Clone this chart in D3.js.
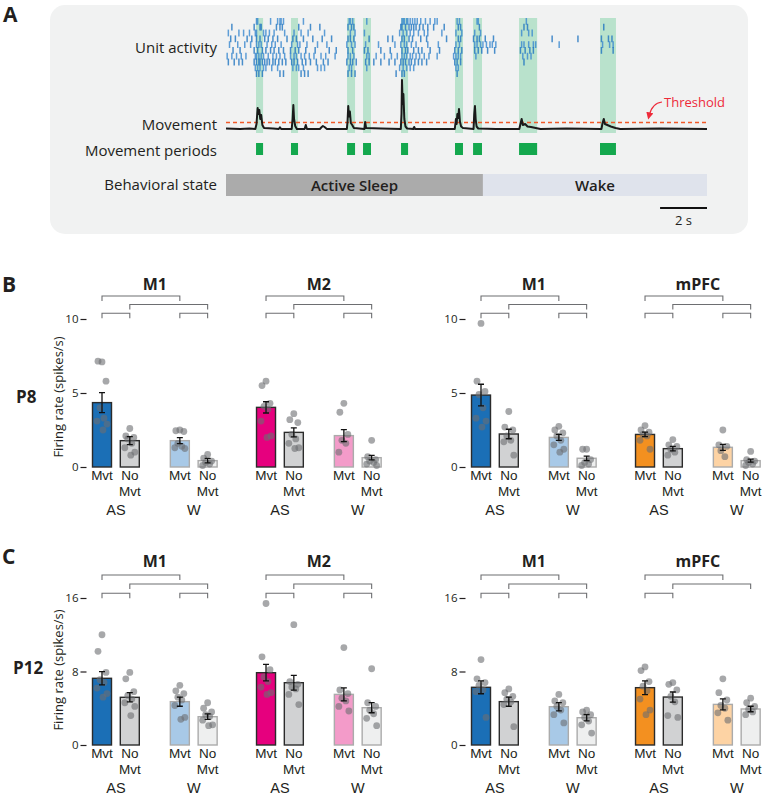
<!DOCTYPE html>
<html>
<head>
<meta charset="utf-8">
<script src="https://cdnjs.cloudflare.com/ajax/libs/d3/7.8.5/d3.min.js"></script>
<style>
  body { margin: 0; background: #fff; }
  svg text { font-family: "Open Sans", "Noto Sans", sans-serif; fill: #231f20; }
  svg text.lab { font-family: "Liberation Sans", Arial, sans-serif; }
</style>
</head>
<body>
<div id="fig"></div>
<script>
// ---------- panel A data ----------
var spikeRows = [
  [1.3, 1.35, 1.9, 2.2, 2.3, 2.35, 2.45, 3.3, 5.25, 5.3, 5.4, 6.0, 7.5, 7.55, 7.6, 7.7, 7.75, 7.85, 7.95, 8.05, 8.15, 8.3, 8.5, 8.7, 8.9, 9.0, 9.85, 9.95, 10.7, 10.75, 12.8],
  [0.25, 1.2, 1.45, 1.5, 2.15, 2.3, 2.4, 3.1, 3.6, 4.0, 5.2, 5.35, 5.45, 7.45, 7.5, 7.65, 7.8, 7.9, 8.0, 8.1, 8.25, 8.4, 8.6, 8.85, 9.3, 9.9, 10.0, 10.8, 12.7, 12.85, 16.1],
  [0.1, 0.55, 0.75, 1.0, 1.25, 1.3, 1.6, 1.7, 1.85, 2.05, 2.5, 2.9, 3.2, 3.5, 4.2, 5.3, 5.5, 5.9, 7.4, 7.55, 7.7, 7.85, 8.0, 8.2, 8.45, 8.6, 9.2, 9.8, 10.05, 10.6, 10.85, 12.6, 12.9, 13.05],
  [0.2, 0.4, 0.9, 1.1, 1.3, 1.45, 1.65, 1.8, 2.0, 2.2, 2.6, 2.85, 3.0, 3.3, 3.7, 4.1, 4.5, 5.2, 5.3, 5.45, 6.1, 6.9, 7.1, 7.5, 7.6, 7.8, 7.95, 8.3, 8.55, 9.4, 9.9, 10.0, 10.55, 10.7, 10.8, 11.05, 11.4, 13.9, 15.0, 16.0, 16.3, 16.45],
  [0.15, 0.5, 0.8, 1.05, 1.3, 1.4, 1.5, 1.75, 1.95, 2.1, 2.35, 2.8, 3.05, 3.15, 3.45, 3.9, 4.3, 5.15, 5.35, 5.5, 5.95, 6.5, 7.2, 7.45, 7.6, 7.7, 7.9, 8.1, 8.6, 9.05, 9.8, 9.95, 10.6, 10.7, 10.85, 10.95, 11.1, 11.25, 11.35, 11.5, 12.6, 12.7, 12.9, 13.1, 13.2, 14.2, 16.05, 16.35, 16.5],
  [0.3, 0.6, 1.2, 1.35, 1.55, 1.7, 1.9, 2.05, 2.25, 2.45, 2.75, 2.95, 3.1, 3.4, 3.8, 4.4, 4.7, 5.2, 5.4, 5.9, 6.05, 6.6, 7.0, 7.5, 7.65, 7.75, 8.0, 8.2, 8.35, 8.7, 9.1, 9.75, 9.9, 10.05, 10.6, 10.75, 10.9, 11.15, 11.45, 12.55, 12.75, 12.95, 13.1, 16.0, 16.5],
  [0.05, 0.25, 0.45, 0.65, 0.85, 1.25, 1.3, 1.4, 1.5, 1.6, 1.8, 2.0, 2.15, 2.3, 2.5, 2.75, 2.9, 3.0, 3.2, 3.35, 3.55, 3.75, 4.05, 4.25, 4.65, 5.2, 5.3, 5.45, 6.0, 6.1, 6.4, 6.75, 7.05, 7.3, 7.5, 7.6, 7.7, 7.85, 7.95, 8.1, 8.25, 8.45, 8.65, 9.0, 9.7, 9.8, 9.9, 10.0, 10.65, 12.65, 12.85, 13.0],
  [0.1, 0.35, 0.55, 0.7, 1.2, 1.3, 1.4, 1.45, 1.55, 1.65, 1.75, 1.85, 2.0, 2.1, 2.25, 2.4, 2.55, 2.8, 2.9, 3.05, 3.25, 3.4, 3.6, 3.85, 4.15, 4.35, 5.15, 5.3, 5.4, 5.55, 5.95, 6.1, 6.3, 6.6, 6.95, 7.2, 7.45, 7.55, 7.65, 7.8, 7.9, 8.05, 8.2, 8.35, 8.55, 9.75, 9.85, 10.0, 12.7],
  [1.25, 1.35, 1.45, 1.6, 1.7, 1.95, 2.2, 2.85, 3.0, 3.1, 3.3, 3.9, 4.05, 4.2, 5.25, 5.35, 6.0, 7.4, 7.55, 7.7, 7.85, 8.0, 9.8, 9.9],
  [1.3, 1.4, 1.55, 2.3, 2.45, 3.2, 3.35, 3.5, 5.2, 5.35, 5.5, 7.25, 7.5, 7.6, 9.85]
];
var movePeriods = [[1.28, 1.58], [2.77, 3.07], [5.16, 5.5], [5.84, 6.18], [7.46, 7.76],
  [9.76, 10.1], [10.53, 10.91], [12.49, 13.26], [15.94, 16.62]];
var moveTrace = [
  [0, 0.01], [0.6, 0], [1.0, 0.01], [1.25, 0], [1.3, 0.1], [1.35, 0.42], [1.38, 0.3], [1.42, 0.38], [1.46, 0.2],
  [1.5, 0.28], [1.55, 0.08], [1.62, 0.02], [2.0, 0.01], [2.25, 0], [2.3, 0.035], [2.35, 0], [2.8, 0],
  [2.84, 0.2], [2.87, 0.48], [2.9, 0.2], [2.95, 0.06], [3.02, 0], [3.35, 0], [3.4, 0.08], [3.45, 0],
  [4.0, 0], [4.08, 0.04], [4.13, 0.06], [4.2, 0.04], [4.3, 0], [5.15, 0], [5.18, 0.15], [5.21, 0.46],
  [5.24, 0.25], [5.28, 0.35], [5.32, 0.12], [5.38, 0.08], [5.45, 0.02], [5.9, 0], [5.93, 0.14], [5.97, 0.02],
  [6.6, 0.01], [7.45, 0], [7.48, 0.3], [7.5, 0.98], [7.53, 0.5], [7.56, 0.7], [7.6, 0.2], [7.65, 0.05],
  [7.72, 0.01], [7.98, 0], [8.02, 0.04], [8.06, 0], [9.75, 0], [9.8, 0.2], [9.83, 0.1], [9.86, 0.3],
  [9.9, 0.22], [9.93, 0.4], [9.97, 0.15], [10.02, 0.05], [10.1, 0.02], [10.55, 0], [10.58, 0.3],
  [10.61, 0.46], [10.64, 0.2], [10.68, 0.05], [10.75, 0.01], [11.5, 0], [12.5, 0], [12.55, 0.1],
  [12.6, 0.2], [12.65, 0.08], [12.75, 0.1], [12.85, 0.05], [13.0, 0.04], [13.2, 0.02], [13.4, 0],
  [14.5, 0.01], [16.0, 0], [16.05, 0.12], [16.1, 0.2], [16.15, 0.1], [16.25, 0.08], [16.4, 0.05],
  [16.6, 0.02], [16.8, 0], [18.5, 0.01], [20.5, 0]
];
var moveThreshold = 0.13;
var stateSpans = [["Active Sleep", 0, 10.95], ["Wake", 10.95, 20.5]];

// ---------- panels B / C data ----------
var condLabels = ["Mvt", "No Mvt", "Mvt", "No Mvt"];
var stateLabels = ["AS", "W"];

var B_M1a_mean = [4.35, 1.78, 1.78, 0.43];
var B_M1a_sem = [0.68, 0.27, 0.2, 0.15];
var B_M1a_pts = [[7.1, 7.15, 5.8, 4.0, 3.3, 3.1, 2.9, 2.5], [2.6, 2.1, 2.0, 1.9, 1.6, 1.3, 1.0, 0.8],
  [2.5, 2.45, 2.4, 1.6, 1.4, 1.3, 1.25], [0.85, 0.6, 0.4, 0.3, 0.2, 0.1]];
var B_M2_mean = [4.03, 2.34, 2.12, 0.63];
var B_M2_sem = [0.38, 0.3, 0.4, 0.15];
var B_M2_pts = [[5.8, 5.5, 4.3, 4.1, 3.9, 3.1, 2.1, 2.0], [3.6, 3.2, 3.0, 2.2, 1.9, 1.6, 1.3, 1.25],
  [4.3, 3.7, 2.2, 1.8, 1.6, 1.0], [1.8, 0.7, 0.5, 0.4, 0.3, 0.2, 0.1]];
var B_M1b_mean = [4.86, 2.23, 2.0, 0.59];
var B_M1b_sem = [0.73, 0.32, 0.2, 0.15];
var B_M1b_pts = [[9.7, 5.8, 5.1, 4.9, 4.0, 3.3, 3.1, 2.7], [3.75, 2.7, 2.5, 2.1, 1.8, 1.7, 0.8],
  [2.75, 2.5, 2.3, 2.1, 1.8, 1.5, 1.2, 1.0], [1.2, 1.2, 0.5, 0.3, 0.2, 0.1]];
var B_mPFC_mean = [2.2, 1.24, 1.33, 0.43];
var B_mPFC_sem = [0.15, 0.15, 0.2, 0.1];
var B_mPFC_pts = [[2.8, 2.5, 2.35, 2.2, 2.1, 1.8, 1.2], [1.85, 1.5, 1.4, 1.2, 1.0, 0.8],
  [2.5, 1.5, 1.4, 1.1, 0.7], [1.05, 0.5, 0.4, 0.3, 0.2, 0.1]];

var C_M1a_mean = [7.26, 5.19, 4.72, 3.08];
var C_M1a_sem = [0.72, 0.5, 0.5, 0.3];
var C_M1a_pts = [[12.0, 10.2, 7.9, 7.1, 6.8, 6.2, 5.6, 5.2], [7.9, 7.2, 5.8, 5.4, 5.0, 4.6, 4.2, 3.2],
  [6.5, 5.9, 5.6, 5.2, 4.9, 4.3, 3.0, 2.8], [4.6, 4.0, 3.6, 3.3, 3.1, 2.7, 2.2, 2.1]];
var C_M2_mean = [7.87, 6.78, 5.51, 4.06];
var C_M2_sem = [0.9, 0.8, 0.7, 0.55];
var C_M2_pts = [[15.4, 9.6, 8.2, 7.4, 6.9, 6.3, 5.7, 5.5], [13.1, 6.9, 6.6, 6.3, 6.1, 5.5, 4.4],
  [10.6, 6.0, 5.6, 5.1, 4.8, 4.2, 3.7], [8.3, 4.6, 4.2, 3.8, 3.4, 2.9, 2.1]];
var C_M1b_mean = [6.28, 4.72, 4.17, 2.97];
var C_M1b_sem = [0.7, 0.5, 0.45, 0.35];
var C_M1b_pts = [[9.3, 7.2, 6.8, 6.5, 6.0, 5.8, 3.0], [6.1, 5.7, 5.3, 5.0, 4.7, 4.4, 2.0],
  [5.5, 4.8, 4.6, 4.2, 3.8, 3.3, 2.4], [3.8, 3.6, 3.3, 3.0, 2.6, 2.2, 1.3]];
var C_mPFC_mean = [6.24, 5.22, 4.42, 3.92];
var C_mPFC_sem = [0.75, 0.55, 0.6, 0.3];
var C_mPFC_pts = [[8.5, 8.1, 6.9, 6.4, 5.9, 5.0, 3.8, 3.3], [6.8, 6.6, 6.0, 5.3, 4.7, 3.2, 3.0],
  [7.2, 5.7, 4.9, 4.3, 4.0, 3.5, 2.7], [5.1, 4.6, 4.2, 3.9, 3.6, 3.3]];

var colM1 = ["#1b6fb6", "#d1d2d3", "#a8c9e7", "#eeefef"];
var colM2 = ["#e6007e", "#d1d2d3", "#f39bc9", "#eeefef"];
var colPFC = ["#f39020", "#d1d2d3", "#fdd3a4", "#eeefef"];
var fullBrackets = [[0, 2, 0], [1, 3, 1], [0, 1, 2], [2, 3, 2]];

// ---------- svg ----------
var W = 762, H = 797;
var svg = d3.select('#fig').append('svg')
  .attr('width', W)
  .attr('height', H);

// ---------- panel A ----------
svg.append('text').attr('x', 3).attr('y', 22).attr('font-size', 21).attr('font-weight', 700).text('A');
svg.append('rect')
  .attr('x', 50).attr('y', 5).attr('width', 698).attr('height', 229)
  .attr('rx', 15).attr('fill', '#f1f2f2');

var xT = d3.scaleLinear().domain([0, 20.5]).range([226, 707]);
var yRow = d3.scaleBand().domain(d3.range(spikeRows.length)).range([18, 76]);
var yMov = d3.scaleLinear().domain([0, 1]).range([129, 79]);

svg.append('g').selectAll('rect')
  .data(movePeriods).enter().append('rect')
  .attr('x', function(d) { return xT(d[0]); })
  .attr('width', function(d) { return xT(d[1]) - xT(d[0]); })
  .attr('y', 18).attr('height', 115)
  .attr('fill', '#b9e2cc');

var raster = svg.append('g');
spikeRows.forEach(function(row, i) {
  raster.selectAll('line.r' + i)
    .data(row).enter().append('line')
    .attr('class', 'r' + i)
    .attr('x1', function(d) { return xT(d); })
    .attr('x2', function(d) { return xT(d); })
    .attr('y1', yRow(i))
    .attr('y2', yRow(i) + yRow.bandwidth() + 1)
    .attr('stroke', i % 2 ? '#1f74c1' : '#3a88cf')
    .attr('stroke-opacity', 0.8)
    .attr('stroke-width', 1.5);
});

svg.append('line')
  .attr('x1', xT(0)).attr('x2', xT(20.5))
  .attr('y1', yMov(moveThreshold)).attr('y2', yMov(moveThreshold))
  .attr('stroke', '#f15a29').attr('stroke-width', 1.3).attr('stroke-dasharray', '4,3');

svg.append('path')
  .datum(moveTrace)
  .attr('d', d3.line().x(function(d) { return xT(d[0]); }).y(function(d) { return yMov(d[1]); }))
  .attr('fill', 'none').attr('stroke', '#1a1a1a').attr('stroke-width', 2)
  .attr('stroke-linejoin', 'round');

svg.append('g').selectAll('rect')
  .data(movePeriods).enter().append('rect')
  .attr('x', function(d) { return xT(d[0]); })
  .attr('width', function(d) { return xT(d[1]) - xT(d[0]); })
  .attr('y', 143).attr('height', 12)
  .attr('fill', '#14a84e');

// threshold annotation
svg.append('defs').append('marker')
  .attr('id', 'arr').attr('viewBox', '0 0 10 10').attr('refX', 5).attr('refY', 5)
  .attr('markerWidth', 6).attr('markerHeight', 6).attr('orient', 'auto-start-reverse')
  .append('path').attr('d', 'M0,0 L10,5 L0,10 z').attr('fill', '#ee2a3a');
svg.append('path')
  .attr('d', 'M662,102 Q652,103 649,116')
  .attr('fill', 'none').attr('stroke', '#ee2a3a').attr('stroke-width', 1.2)
  .attr('marker-end', 'url(#arr)');
svg.append('text').attr('x', 664).attr('y', 107).attr('font-size', 13).style('fill', '#ee2a3a').text('Threshold');

// state bar
svg.append('g').selectAll('rect')
  .data(stateSpans).enter().append('rect')
  .attr('x', function(d) { return xT(d[1]); })
  .attr('width', function(d) { return xT(d[2]) - xT(d[1]); })
  .attr('y', 174).attr('height', 22)
  .attr('fill', function(d, i) { return i ? '#dfe3ec' : '#ababab'; });
svg.append('g').selectAll('text')
  .data(stateSpans).enter().append('text')
  .attr('x', function(d) { return (xT(d[1]) + xT(d[2])) / 2; })
  .attr('y', 191).attr('text-anchor', 'middle')
  .attr('font-size', 15).attr('font-weight', 600)
  .text(function(d) { return d[0]; });

var rowLabels = [['Unit activity', 53], ['Movement', 130], ['Movement periods', 156], ['Behavioral state', 190]];
svg.append('g').selectAll('text')
  .data(rowLabels).enter().append('text')
  .attr('x', 217).attr('y', function(d) { return d[1]; })
  .attr('text-anchor', 'end').attr('font-size', 15)
  .text(function(d) { return d[0]; });

svg.append('line')
  .attr('x1', xT(18.5)).attr('x2', xT(20.5)).attr('y1', 208).attr('y2', 208)
  .attr('stroke', '#111').attr('stroke-width', 2.2);
svg.append('text').attr('x', (xT(18.5) + xT(20.5)) / 2).attr('y', 225)
  .attr('text-anchor', 'middle').attr('font-size', 13).text('2 s');

// ---------- panels B / C ----------
function drawChart(opt) {
  var g = svg.append('g');
  var y = opt.y;
  var axisX = opt.c0 - 15.5;
  var ax = g.append('g')
    .attr('transform', 'translate(' + axisX + ',0)')
    .call(d3.axisLeft(y).tickValues(opt.ticks).tickSize(6).tickPadding(2).tickFormat(d3.format('d')));
  ax.select('.domain').remove();
  ax.selectAll('line').attr('stroke', '#231f20').attr('stroke-width', 1.2);
  ax.selectAll('text').attr('font-size', 11.5).attr('font-family', '"Open Sans", sans-serif').attr('fill', '#231f20');

  var slot = d3.scaleLinear().domain([0, 1]).range([opt.c0, opt.c0 + 27.8]);
  var slots = [0, 1, 2.8, 3.8];
  var jit = [0, -4, 4, -2, 2, -5, 5, 1, -1];

  opt.regions.forEach(function(reg, r) {
    var base = r * 5.9;
    var cx = slots.map(function(s) { return slot(base + s); });
    var bw = 19;

    // title
    g.append('text').attr('x', (cx[0] + cx[3]) / 2).attr('y', opt.titleY)
      .attr('text-anchor', 'middle').attr('font-size', 16).attr('font-weight', 700).text(reg.name);

    // brackets
    reg.brackets.forEach(function(b) {
      var by = opt.bracketY[b[2]];
      g.append('path')
        .attr('d', 'M' + cx[b[0]] + ',' + (by + 5) + 'V' + by + 'H' + cx[b[1]] + 'V' + (by + 5))
        .attr('fill', 'none').attr('stroke', '#6d6e71').attr('stroke-width', 1.1);
    });

    // bars
    g.append('g').selectAll('rect')
      .data(reg.mean).enter().append('rect')
      .attr('x', function(d, i) { return cx[i] - bw / 2; })
      .attr('width', bw)
      .attr('y', function(d) { return y(d); })
      .attr('height', function(d) { return y(0) - y(d); })
      .attr('fill', function(d, i) { return reg.colors[i]; })
      .attr('stroke', function(d, i) { return i < 2 ? '#2b2b2b' : '#ababab'; })
      .attr('stroke-width', 1.4);

    // dots
    reg.pts.forEach(function(arr, i) {
      g.append('g').selectAll('circle')
        .data(arr).enter().append('circle')
        .attr('cx', function(d, k) { return cx[i] + jit[k % jit.length]; })
        .attr('cy', function(d) { return y(d); })
        .attr('r', 3.4)
        .attr('fill', '#6d6e71').attr('fill-opacity', 0.6);
    });

    // error bars
    reg.mean.forEach(function(m, i) {
      var s = reg.sem[i];
      g.append('path')
        .attr('d', 'M' + (cx[i] - 3) + ',' + y(m + s) + 'H' + (cx[i] + 3) +
          'M' + cx[i] + ',' + y(m + s) + 'V' + y(m - s) +
          'M' + (cx[i] - 3) + ',' + y(m - s) + 'H' + (cx[i] + 3))
        .attr('fill', 'none').attr('stroke', '#111').attr('stroke-width', 1.3);
    });

    // condition labels (two-line labels as one text with tspans)
    condLabels.forEach(function(lab, i) {
      var t = g.append('text').attr('class', 'lab').attr('x', cx[i]).attr('y', opt.labY[0])
        .attr('text-anchor', 'middle').attr('font-size', 13.5);
      lab.split(' ').forEach(function(p, j) {
        t.append('tspan').attr('x', cx[i]).attr('y', opt.labY[j]).text(p);
      });
    });
    stateLabels.forEach(function(lab, k) {
      g.append('text').attr('class', 'lab').attr('x', (cx[2 * k] + cx[2 * k + 1]) / 2).attr('y', opt.labY[2])
        .attr('text-anchor', 'middle').attr('font-size', 14.5).text(lab);
    });
  });

  if (opt.yLabel) {
    g.append('text')
      .attr('transform', 'translate(63,' + opt.yLabelY + ') rotate(-90)')
      .attr('text-anchor', 'middle').attr('font-size', 13).text('Firing rate (spikes/s)');
  }
}

var yB = d3.scaleLinear().domain([0, 10]).range([467, 319]);
var yC = d3.scaleLinear().domain([0, 16]).range([745, 598]);

svg.append('text').attr('x', 2).attr('y', 292).attr('font-size', 21).attr('font-weight', 700).text('B');
svg.append('text').attr('x', 16).attr('y', 403).attr('font-size', 17).attr('font-weight', 700).text('P8');
svg.append('text').attr('x', 2).attr('y', 564).attr('font-size', 21).attr('font-weight', 700).text('C');
svg.append('text').attr('x', 13).attr('y', 674).attr('font-size', 17).attr('font-weight', 700).text('P12');

var optB = { y: yB, ticks: [0, 5, 10], titleY: 290, bracketY: [296, 304.5, 313.3], labY: [480, 495.5, 515] };
var optC = { y: yC, ticks: [0, 8, 16], titleY: 567, bracketY: [575, 584, 593.3], labY: [758, 773.5, 793] };

drawChart(Object.assign({}, optB, { c0: 102, yLabel: true, yLabelY: 397, regions: [
  { name: 'M1', mean: B_M1a_mean, sem: B_M1a_sem, pts: B_M1a_pts, colors: colM1, brackets: fullBrackets },
  { name: 'M2', mean: B_M2_mean, sem: B_M2_sem, pts: B_M2_pts, colors: colM2, brackets: fullBrackets }
] }));
drawChart(Object.assign({}, optB, { c0: 481, regions: [
  { name: 'M1', mean: B_M1b_mean, sem: B_M1b_sem, pts: B_M1b_pts, colors: colM1, brackets: fullBrackets },
  { name: 'mPFC', mean: B_mPFC_mean, sem: B_mPFC_sem, pts: B_mPFC_pts, colors: colPFC, brackets: fullBrackets }
] }));
drawChart(Object.assign({}, optC, { c0: 102, yLabel: true, yLabelY: 670, regions: [
  { name: 'M1', mean: C_M1a_mean, sem: C_M1a_sem, pts: C_M1a_pts, colors: colM1, brackets: fullBrackets },
  { name: 'M2', mean: C_M2_mean, sem: C_M2_sem, pts: C_M2_pts, colors: colM2, brackets: fullBrackets }
] }));
drawChart(Object.assign({}, optC, { c0: 481, regions: [
  { name: 'M1', mean: C_M1b_mean, sem: C_M1b_sem, pts: C_M1b_pts, colors: colM1, brackets: fullBrackets },
  { name: 'mPFC', mean: C_mPFC_mean, sem: C_mPFC_sem, pts: C_mPFC_pts, colors: colPFC, brackets: fullBrackets.slice(0, 3) }
] }));
</script>
</body>
</html>
